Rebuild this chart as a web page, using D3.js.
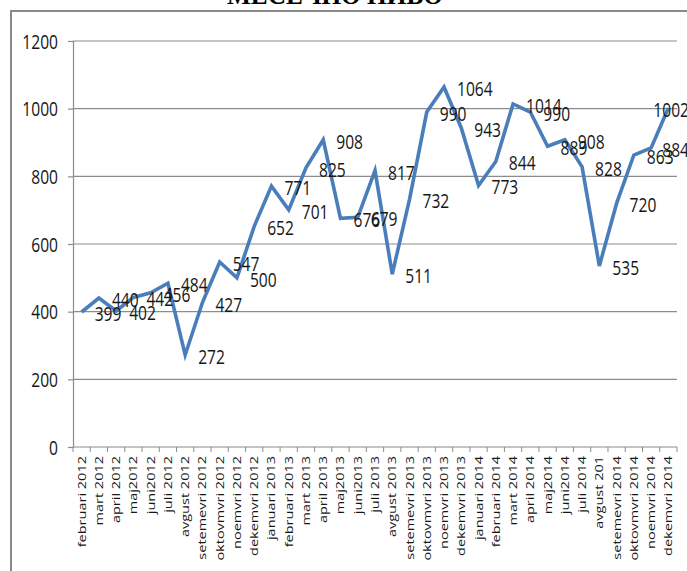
<!DOCTYPE html>
<html>
<head>
<meta charset="utf-8">
<script src="https://cdn.jsdelivr.net/npm/d3@7"></script>
<style>
  html, body { margin: 0; padding: 0; background: #ffffff; }
  svg { display: block; }
</style>
</head>
<body>
<div id="chart"></div>
<script>
// Monthly categories (x axis)
const months = [
  "februari 2012", "mart 2012", "april 2012", "maj2012", "juni2012", "juli 2012",
  "avgust 2012", "setemevri 2012", "oktovmvri 2012", "noemvri 2012", "dekemvri 2012",
  "januari 2013", "februari 2013", "mart 2013", "april 2013", "maj2013", "juni2013",
  "juli 2013", "avgust 2013", "setemevri 2013", "oktovmvri 2013", "noemvri 2013",
  "dekemvri 2013", "januari 2014", "februari 2014", "mart 2014", "april 2014",
  "maj2014", "juni2014", "juli 2014", "avgust 201", "setemevri 2014",
  "oktovmvri 2014", "noemvri 2014", "dekemvri 2014"
];

// Monthly values
const values = [
  399, 440, 402, 442, 456, 484, 272, 427, 547, 500, 652,
  771, 701, 825, 908, 676, 679, 817, 511, 732, 990, 1064,
  943, 773, 844, 1014, 990, 889, 908, 828, 535, 720, 863, 884, 1002
];

// Value axis ticks
const yTicks = [0, 200, 400, 600, 800, 1000, 1200];

const chartTitle = "МЕСЕЧНО НИВО";

const W = 687, H = 571;
const plot = { left: 73, right: 677, top: 41, bottom: 447 };
const FONT = "'Open Sans', 'Noto Sans', sans-serif";
const SX = 0.78;           // horizontal squeeze applied to glyphs
const LINE_BLUE = "#4a7ebb";
const GRID = "#8c8c8c";
const INK = "#161616";

const svg = d3.select("#chart").append("svg")
  .attr("width", W).attr("height", H);

// Title and frame
svg.append("text")
  .attr("x", 227).attr("y", 4)
  .attr("textLength", 216).attr("lengthAdjust", "spacingAndGlyphs")
  .attr("font-family", "'Liberation Serif', 'DejaVu Serif', serif")
  .attr("font-weight", "bold").attr("font-size", 28)
  .attr("fill", "#000").text(chartTitle);

svg.append("path")
  .attr("d", `M11,${H} V11 H${W}`)
  .attr("fill", "none").attr("stroke", "#8a8a8a").attr("stroke-width", 2);

// Scales
const x = d3.scaleBand().domain(months).range([plot.left, plot.right]).padding(0);
const y = d3.scaleLinear().domain([0, 1200]).range([plot.bottom, plot.top]);
const cx = d => x(d) + x.bandwidth() / 2;

// Horizontal gridlines
svg.append("g").selectAll("line")
  .data(yTicks.filter(t => t > 0))
  .join("line")
  .attr("x1", plot.left).attr("x2", plot.right)
  .attr("y1", d => y(d)).attr("y2", d => y(d))
  .attr("stroke", GRID).attr("stroke-width", 1.2);

// Y axis
const yAxis = d3.axisLeft(y).tickValues(yTicks).tickSize(5).tickFormat(d3.format("d"));
const gy = svg.append("g").attr("transform", `translate(${plot.left},0)`).call(yAxis);
gy.select(".domain").attr("stroke", GRID).attr("stroke-width", 1.2);
gy.selectAll(".tick line").attr("stroke", GRID).attr("stroke-width", 1.2);
gy.selectAll(".tick text").remove();
gy.selectAll(".tick").append("text")
  .attr("transform", `translate(-15,7) scale(${SX},1)`)
  .attr("text-anchor", "end")
  .attr("font-family", FONT).attr("font-size", 20)
  .attr("fill", INK)
  .text(d => d3.format("d")(d));

// X axis with ticks on category boundaries
const gx = svg.append("g").attr("transform", `translate(0,${plot.bottom})`);
gx.append("line")
  .attr("x1", plot.left).attr("x2", plot.right)
  .attr("stroke", GRID).attr("stroke-width", 1.2);
const boundaries = months.map(m => x(m)).concat([plot.right]);
gx.selectAll("line.tk").data(boundaries).join("line")
  .attr("class", "tk")
  .attr("x1", d => d).attr("x2", d => d)
  .attr("y1", 0).attr("y2", 5)
  .attr("stroke", GRID).attr("stroke-width", 1);
gx.selectAll("text").data(months).join("text")
  .attr("transform", d => `translate(${cx(d) + 4},${9}) rotate(-90) scale(1,0.8)`)
  .attr("text-anchor", "end")
  .attr("font-family", FONT).attr("font-size", 14.5)
  .attr("fill", INK)
  .text(d => d);

// Series line
const series = months.map((m, i) => ({ m, v: values[i] }));
const line = d3.line().x(d => cx(d.m)).y(d => y(d.v));
svg.append("path")
  .datum(series)
  .attr("d", line)
  .attr("fill", "none")
  .attr("stroke", LINE_BLUE)
  .attr("stroke-width", 3.6)
  .attr("stroke-linejoin", "miter");

// Data labels placed right of each point, kept inside the frame
const labels = svg.append("g").selectAll("text")
  .data(series).join("text")
  .attr("font-family", FONT).attr("font-size", 20)
  .attr("fill", INK)
  .text(d => d.v);
labels.each(function(d) {
  const w = this.getComputedTextLength() * SX;
  let lx = cx(d.m) + 13;
  if (lx + w > W + 2) lx = W + 2 - w;
  d3.select(this).attr("transform", `translate(${lx},${y(d.v) + 9}) scale(${SX},1)`);
});
</script>
</body>
</html>
